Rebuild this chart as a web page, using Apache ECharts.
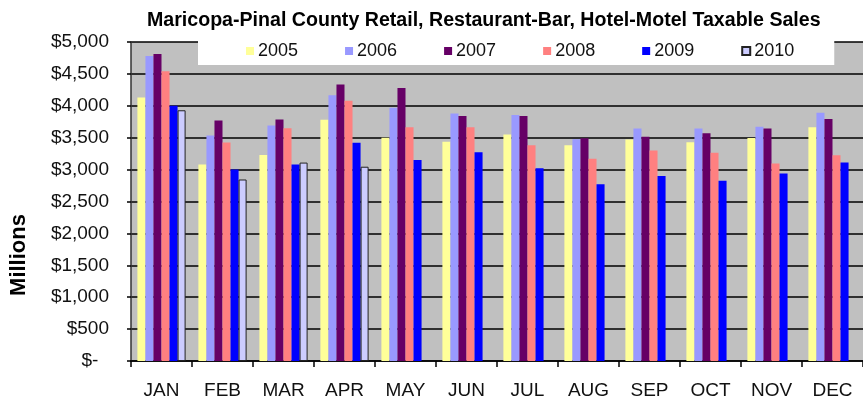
<!DOCTYPE html>
<html>
<head>
<meta charset="utf-8">
<script src="https://cdn.jsdelivr.net/npm/echarts@6/dist/echarts.min.js"></script>
<style>html,body{margin:0;padding:0;background:#fff}#c{width:863px;height:400px}</style>
</head>
<body>
<div id="c"></div>
<script>
var months = ['JAN','FEB','MAR','APR','MAY','JUN','JUL','AUG','SEP','OCT','NOV','DEC'];
var years = ['2005','2006','2007','2008','2009','2010'];
var s2005 = [4130, 3080, 3230, 3780, 3500, 3435, 3550, 3380, 3470, 3430, 3495, 3665];
var s2006 = [4780, 3535, 3690, 4165, 3970, 3880, 3855, 3475, 3645, 3645, 3670, 3890];
var s2007 = [4810, 3770, 3785, 4335, 4280, 3840, 3840, 3490, 3515, 3570, 3645, 3795];
var s2008 = [4540, 3425, 3650, 4080, 3665, 3665, 3380, 3170, 3300, 3265, 3095, 3225];
var s2009 = [4000, 3000, 3080, 3420, 3150, 3270, 3020, 2770, 2900, 2825, 2940, 3110];
var s2010 = [3930, 2845, 3110, 3045, null, null, null, null, null, null, null, null];
var yTicks = [0, 500, 1000, 1500, 2000, 2500, 3000, 3500, 4000, 4500, 5000];

var colors = ['#FFFF99', '#9999FF', '#660066', '#FF8080', '#0000FF', '#CCCCFF'];
var seriesData = [s2005, s2006, s2007, s2008, s2009, s2010];

var FONT = '"Liberation Sans", Arial, sans-serif';

function fmt(v) {
  if (v === 0) return '$-  ';
  var s = String(v);
  if (s.length > 3) s = s.slice(0, s.length - 3) + ',' + s.slice(s.length - 3);
  return '$' + s;
}

var chart = echarts.init(document.getElementById('c'), null, {renderer: 'canvas'});
var series = years.map(function (y, i) {
  var st = {color: colors[i]};
  if (i === 5) { st.borderColor = '#222'; st.borderWidth = 1; }
  return {
    name: y,
    type: 'bar',
    data: seriesData[i],
    barGap: '0%',
    barCategoryGap: '21%',
    itemStyle: st,
    emphasis: {disabled: true},
    animation: false
  };
});

chart.setOption({
  animation: false,
  color: colors,
  textStyle: {fontFamily: FONT},
  title: {
    text: 'Maricopa-Pinal County Retail, Restaurant-Bar, Hotel-Motel Taxable Sales',
    left: 147,
    top: 11,
    padding: 0,
    textStyle: {fontFamily: FONT, fontWeight: 'bold', fontSize: 19.6, color: '#000'}
  },
  legend: {
    data: years,
    left: 198,
    top: 36,
    padding: [6, 40, 5, 48],
    backgroundColor: '#ffffff',
    itemWidth: 8,
    itemHeight: 8,
    itemGap: 47,
    icon: 'rect',
    textStyle: {fontFamily: FONT, fontSize: 18, color: '#111', padding: [0, 0, 0, -1]},
    selectedMode: false
  },
  graphic: [{
    type: 'text',
    x: 19,
    y: 255,
    rotation: Math.PI / 2,
    style: {
      text: 'Millions',
      font: 'bold 22px ' + FONT,
      fill: '#000',
      align: 'center',
      verticalAlign: 'middle'
    }
  }],
  grid: {
    left: 131,
    top: 42,
    width: 733,
    height: 321.5,
    show: true,
    backgroundColor: '#C0C0C0',
    borderWidth: 0,
    containLabel: false
  },
  xAxis: {
    type: 'category',
    data: months,
    axisLine: {show: true, lineStyle: {color: '#000', width: 1.5}},
    axisTick: {show: true, length: 6, lineStyle: {color: '#000', width: 1.5}},
    axisLabel: {fontFamily: FONT, fontSize: 19, color: '#111', margin: 20}
  },
  yAxis: {
    type: 'value',
    min: 0,
    max: 5000,
    interval: 500,
    axisLine: {show: true, lineStyle: {color: '#333', width: 1.5}},
    axisTick: {show: true, length: 4, lineStyle: {color: '#000', width: 1.5}},
    axisLabel: {
      fontFamily: FONT, fontSize: 19, color: '#111', margin: 22,
      formatter: function (v) { return fmt(v); }
    },
    splitLine: {show: true, lineStyle: {color: '#000', width: 1.5}}
  },
  series: series
});
</script>
</body>
</html>
